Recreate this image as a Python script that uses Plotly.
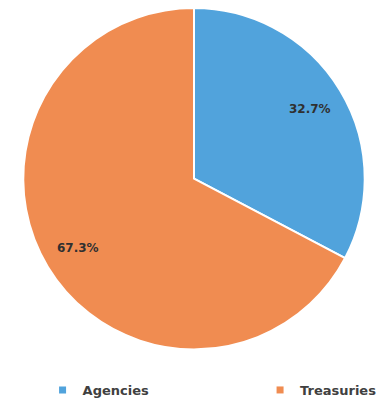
import math
import plotly.graph_objects as go

# Portfolio split by holding type
categories = ["Agencies", "Treasuries"]
shares = [32.7, 67.3]
colors = ["#51A3DC", "#F08C51"]

W, H = 387, 405
# pie placement in pixels
cx, cy, r = 194, 180, 172
label_radius = 0.79

fig = go.Figure()
fig.add_trace(
    go.Pie(
        labels=categories,
        values=shares,
        sort=False,
        direction="clockwise",
        rotation=0,
        marker=dict(colors=colors, line=dict(color="white", width=2)),
        textinfo="none",
        hoverinfo="label+percent",
        showlegend=False,
        domain=dict(x=[(cx - r) / W, (cx + r) / W], y=[1 - (cy + r) / H, 1 - (cy - r) / H]),
    )
)

# percentage labels placed along each slice's mid-angle
total = sum(shares)
start = 0.0
for v in shares:
    frac = v / total
    mid = (start + frac / 2) * 2 * math.pi
    px = cx + label_radius * r * math.sin(mid)
    py = cy - label_radius * r * math.cos(mid)
    fig.add_annotation(
        x=px / W, y=1 - py / H, xref="paper", yref="paper",
        xanchor="center", yanchor="middle",
        text=f"{frac * 100:.1f}%", showarrow=False,
        font=dict(family="DejaVu Sans", size=12, color="#303030", weight="bold"),
    )
    start += frac

# legend entries, one legend per category so they can be spaced apart
legend_x = [0.110, 0.672]
for i, (name, col) in enumerate(zip(categories, colors)):
    lg = "legend" if i == 0 else f"legend{i + 1}"
    fig.add_trace(
        go.Scatter(
            x=[None], y=[None], mode="markers", name=name,
            marker=dict(symbol="square", size=7, color=col),
            legend=lg, showlegend=True, hoverinfo="skip",
        )
    )
    fig.update_layout({
        lg: dict(
            orientation="h", x=legend_x[i], xanchor="left",
            y=1 - 393 / H, yanchor="middle",
            bgcolor="rgba(0,0,0,0)",
            font=dict(family="DejaVu Sans", size=13, color="#404040", weight="bold"),
        )
    })

fig.update_layout(
    width=W,
    height=H,
    margin=dict(l=0, r=0, t=0, b=0),
    paper_bgcolor="white",
    plot_bgcolor="white",
    xaxis=dict(visible=False),
    yaxis=dict(visible=False),
)

fig.write_html("out.html")
